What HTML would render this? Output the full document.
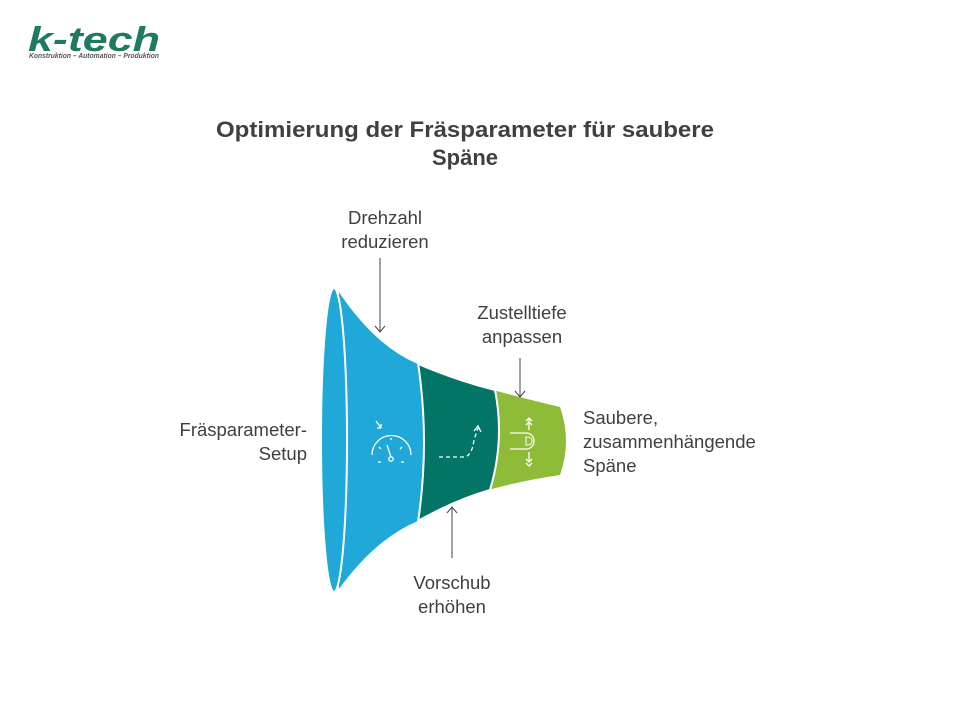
<!DOCTYPE html>
<html><head><meta charset="utf-8"><style>
body{margin:0;width:960px;height:720px;background:#fff;overflow:hidden;font-family:"Liberation Sans",sans-serif;}
</style></head><body>
<svg width="960" height="720" xmlns="http://www.w3.org/2000/svg" font-family="Liberation Sans, sans-serif">
<!-- logo -->
<text x="28" y="51" font-size="34" font-weight="bold" font-style="italic" fill="#1e7b5f" textLength="132" lengthAdjust="spacingAndGlyphs">k-tech</text>
<text x="29" y="58" font-size="7" font-weight="bold" font-style="italic" fill="#555" textLength="130" lengthAdjust="spacingAndGlyphs">Konstruktion – Automation – Produktion</text>
<!-- title -->
<text x="465" y="137" font-size="22" font-weight="bold" fill="#404040" text-anchor="middle" textLength="498" lengthAdjust="spacingAndGlyphs">Optimierung der Fräsparameter für saubere</text>
<text x="465" y="165" font-size="22" font-weight="bold" fill="#404040" text-anchor="middle">Späne</text>
<!-- funnel -->
<path d="M493,390 Q530,400 560,407 Q572,441 560,475 Q525,480 488,490 Q503,440 493,390 Z" fill="#8fbc38"/>
<path d="M416,363 Q455,380 495,390 Q505,440 490,490 Q455,500 416,522 Q430,442 416,363 Z" fill="#037566" stroke="#fff" stroke-width="2"/>
<path d="M338,289 Q375,345 418,363 Q430,442 418,522 Q375,540 338,592 Z" fill="#1fa8d8" stroke="#fff" stroke-width="2"/>
<ellipse cx="334" cy="440" rx="13" ry="152" fill="#1fa8d8" stroke="#fff" stroke-width="2"/>
<!-- icons -->
<g stroke="#fff" stroke-width="1.3" fill="none">
<path d="M376,421 L381,428 M381,428 L381,424 M381,428 L377,428"/>
<path d="M372,455 A19,19 0 0 1 411,455"/>
<line x1="387" y1="445" x2="391" y2="457"/>
<circle cx="391" cy="459" r="2.2"/>
<path d="M378,462h3M401,462h3M379,447l2,2M402,447l-2,2M391,438v2"/>
<path d="M439,457 L465,457 Q472,455 474,440 L478,428" stroke-dasharray="4,3"/>
<path d="M474,431 L478,426 L481,432"/>
<path d="M510,433 h16 a8,8 0 0 1 0,16 h-16"/>
<path d="M526,437 v8 h2 a4,4 0 0 0 0,-8 z" stroke-width="1"/>
<path d="M529,430 v-12 M526,421 l3,-3 l3,3 M526,425 l3,-3 l3,3"/>
<path d="M529,452 v10 M526,459 l3,3 l3,-3 M526,463 l3,3 l3,-3"/>
</g>
<!-- arrows -->
<g stroke="#444" stroke-width="1" fill="none">
<line x1="380" y1="258" x2="380" y2="332"/><path d="M375,326 L380,332 L385,326"/>
<line x1="520" y1="358" x2="520" y2="397"/><path d="M515,391 L520,397 L525,391"/>
<line x1="452" y1="558" x2="452" y2="507"/><path d="M447,513 L452,507 L457,513"/>
</g>
<g font-size="18.5" fill="#404040">
<text x="385" y="224" text-anchor="middle">Drehzahl</text>
<text x="385" y="248" text-anchor="middle">reduzieren</text>
<text x="522" y="319" text-anchor="middle">Zustelltiefe</text>
<text x="522" y="343" text-anchor="middle">anpassen</text>
<text x="452" y="589" text-anchor="middle">Vorschub</text>
<text x="452" y="613" text-anchor="middle">erhöhen</text>
<text x="307" y="436" text-anchor="end">Fräsparameter-</text>
<text x="307" y="460" text-anchor="end">Setup</text>
<text x="583" y="424">Saubere,</text>
<text x="583" y="448">zusammenhängende</text>
<text x="583" y="472">Späne</text>
</g>
</svg>
</body></html>
